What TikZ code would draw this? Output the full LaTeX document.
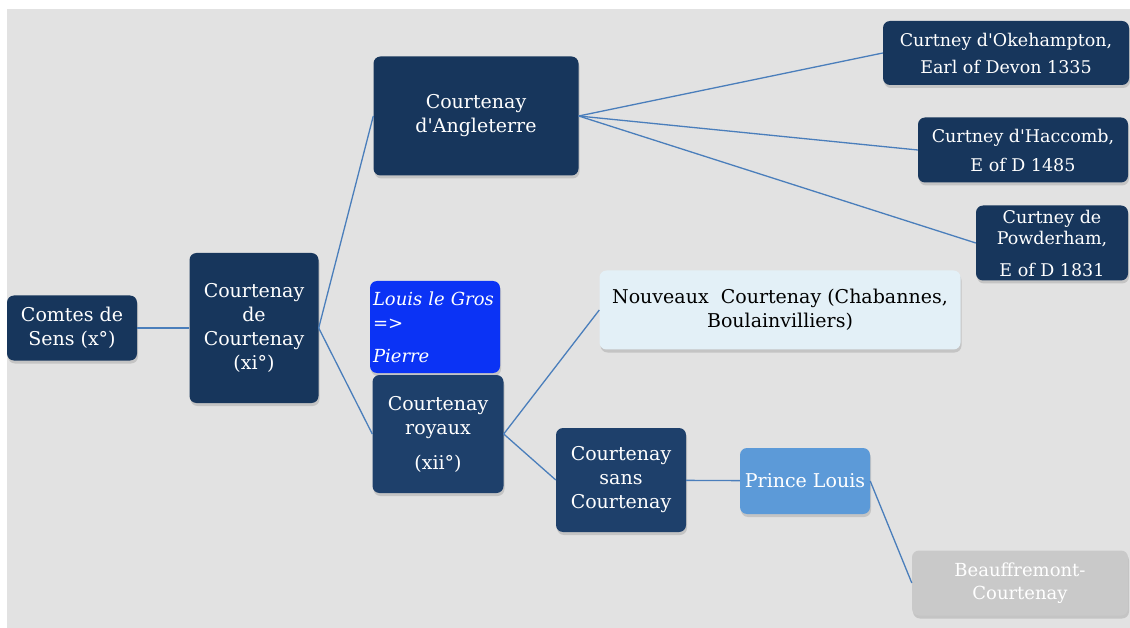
\documentclass[tikz,border=0pt]{standalone}
\usepackage{fontspec}
\setmainfont{DejaVu Serif}
\usetikzlibrary{shadows}

\definecolor{navy}{HTML}{17365C}
\definecolor{navylight}{HTML}{1E406B}
\definecolor{royalblue}{HTML}{0B33F5}
\definecolor{skyblue}{HTML}{5C9AD8}
\definecolor{paleblue}{HTML}{E3F0F7}
\definecolor{palegray}{HTML}{C9C9C9}
\definecolor{linkblue}{HTML}{4A7EBB}
\definecolor{backgray}{HTML}{E2E2E2}

\begin{document}
\begin{tikzpicture}[x=1pt, y=-1pt,
    main node/.style={rectangle, rounded corners=7pt, fill=navy, text=white, align=center, inner sep=2pt,
      drop shadow={shadow xshift=1pt, shadow yshift=-3pt, opacity=0.3},
      font=\fontsize{19}{24}\selectfont},
    small node/.style={main node, font=\fontsize{17.5}{21}\selectfont},
    link/.style={draw=linkblue, line width=1.3pt},
    ]
  \useasboundingbox (0,0) rectangle (1130,628);
  \fill[white] (0,0) rectangle (1130,628);
  \fill[backgray] (7,9) rectangle (1130,628);

  \node[main node, minimum width=130, minimum height=65] (comtes) at (72,328) {Comtes de\\Sens (x°)};
  \node[main node, minimum width=129, minimum height=150] (courtenay) at (254,328) {Courtenay\\de\\Courtenay\\(xi°)};
  \node[main node, minimum width=205, minimum height=119] (angleterre) at (476,116) {Courtenay\\d\textquotesingle Angleterre};
  \node[main node, fill=royalblue, align=left, minimum width=130, minimum height=92, text width=124,
    font=\fontsize{18}{24}\selectfont\itshape] (louis) at (435,327) {Louis le Gros\\=>\\[9pt]Pierre};
  \node[main node, fill=navylight, minimum width=131, minimum height=118] (royaux) at (438,434) {Courtenay\\royaux\\[11pt](xii°)};
  \node[main node, fill=paleblue, text=black, minimum width=361, minimum height=79] (nouveaux) at (780,310) {Nouveaux~~Courtenay (Chabannes,\\Boulainvilliers)};
  \node[main node, fill=navylight, minimum width=130, minimum height=104] (sans) at (621,480) {Courtenay\\sans\\Courtenay};
  \node[main node, fill=skyblue, minimum width=130, minimum height=66] (prince) at (805,481) {Prince Louis};
  \node[main node, fill=palegray, minimum width=216, minimum height=65,
    font=\fontsize{18}{23}\selectfont] (beauffremont) at (1020,583) {Beauffremont-\\Courtenay};

  \node[small node, minimum width=246, minimum height=64] (okehampton) at (1006,53) {Curtney d\textquotesingle Okehampton,\\[6pt]Earl of Devon 1335};
  \node[small node, minimum width=210, minimum height=65] (haccomb) at (1023,150) {Curtney d\textquotesingle Haccomb,\\[8pt]E of D 1485};
  \node[small node, minimum width=152, minimum height=75] (powderham) at (1052,243) {Curtney de\\Powderham,\\[11pt]E of D 1831};

  \draw[link] (comtes) -- (courtenay);
  \draw[link] (courtenay.east) -- (angleterre.west);
  \draw[link] (courtenay.east) -- (royaux.west);
  \draw[link] (angleterre.east) -- (okehampton.west);
  \draw[link] (angleterre.east) -- (haccomb.west);
  \draw[link] (angleterre.east) -- (powderham.west);
  \draw[link] (royaux.east) -- (nouveaux.west);
  \draw[link] (royaux.east) -- (sans.west);
  \draw[link] (sans) -- (prince);
  \draw[link] (prince.east) -- (beauffremont.west);
\end{tikzpicture}
\end{document}
